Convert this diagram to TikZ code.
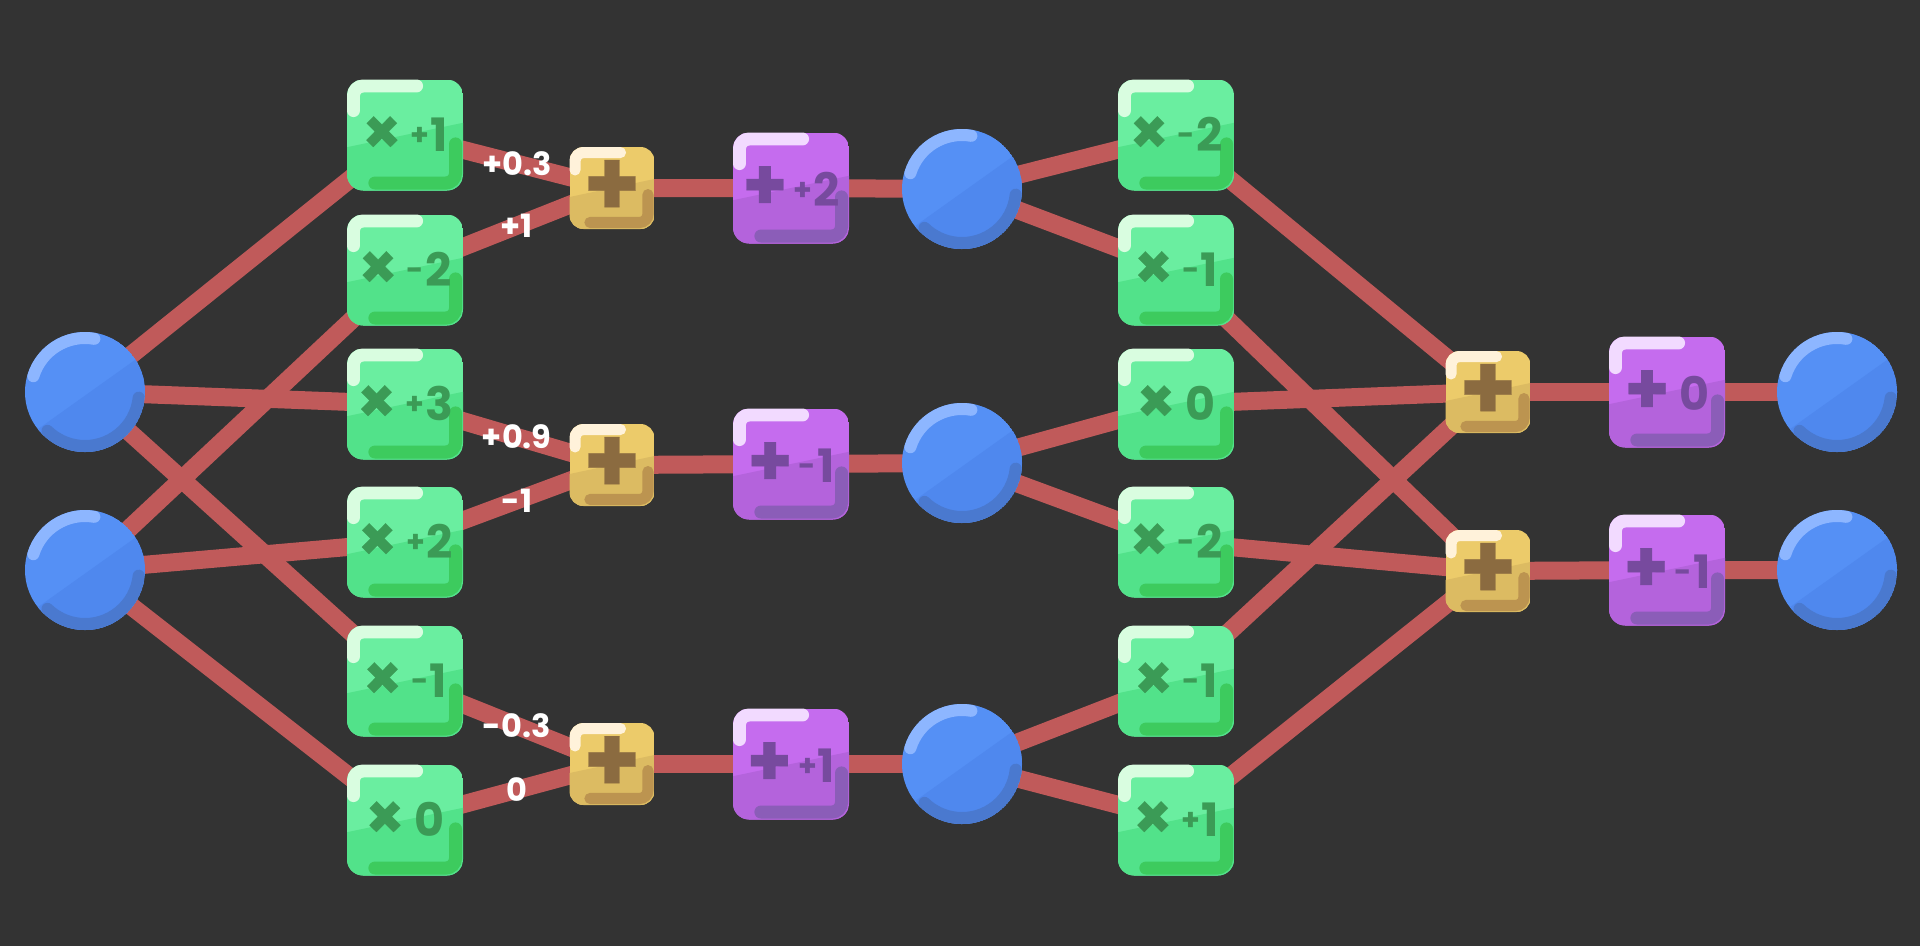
\documentclass[tikz,border=0pt]{standalone}
\usepackage{fontspec}
\setmainfont{Poppins}
\newfontfamily\popmed{Poppins}[FakeBold=0.4]
\usetikzlibrary{calc}
\definecolor{bgc}{HTML}{333333}
\definecolor{edgec}{HTML}{C05A5A}
\definecolor{gtop}{HTML}{6AEEA0}
\definecolor{gbot}{HTML}{52E28A}
\definecolor{ghi}{HTML}{D9FDE0}
\definecolor{gdk}{HTML}{3DCB5E}
\definecolor{gtx}{HTML}{3B9B56}
\definecolor{ptop}{HTML}{C56CEE}
\definecolor{pbot}{HTML}{B463DC}
\definecolor{phi}{HTML}{F2DAFF}
\definecolor{pdk}{HTML}{8B5DB8}
\definecolor{ptx}{HTML}{774A9E}
\definecolor{ytop}{HTML}{ECCB6A}
\definecolor{ybot}{HTML}{DCBB62}
\definecolor{yhi}{HTML}{FFF2DA}
\definecolor{ydk}{HTML}{BC9450}
\definecolor{ytx}{HTML}{8B6B40}
\definecolor{btop}{HTML}{5590F5}
\definecolor{bbot}{HTML}{4F88EE}
\definecolor{bhi}{HTML}{8DB6FF}
\definecolor{bdk}{HTML}{4A79CF}
\pgfdeclarelayer{bg}
\pgfsetlayers{bg,main}
\tikzset{
  edge/.style={draw=edgec, line width=18pt},
  lbl/.style={text=white, font=\fontsize{32}{32}\selectfont\bfseries, inner sep=0pt},
  boxtext/.style={font=\fontsize{46}{46}\selectfont\bfseries, inner sep=0pt}
}
\newcommand{\smsign}[1]{\raisebox{6pt}{\fontsize{30}{30}\selectfont #1}}
\newcommand{\opmul}{\raisebox{-2pt}{\fontsize{62}{62}\selectfont\popmed ×}}
\newcommand{\opadd}{\raisebox{-3pt}{\fontsize{72}{72}\selectfont\popmed +}}
\newcommand{\bigplus}{{\fontsize{92}{92}\selectfont\popmed +}}
\newcommand{\opbox}[7]{% name, x, y, w, h, colour prefix, content
  \pgfmathsetmacro{\bxa}{#2-#4/2}%
  \pgfmathsetmacro{\bxb}{#2+#4/2}%
  \pgfmathsetmacro{\bya}{#3-#5/2}%
  \pgfmathsetmacro{\byb}{#3+#5/2}%
  \pgfmathsetmacro{\blw}{0.06*#4+6}%
  \pgfmathsetmacro{\brr}{0.07*#4+8}%
  \pgfmathsetmacro{\bri}{\brr-\blw/2}%
  \begin{scope}
    \clip[rounded corners=\brr pt] (\bxa,\bya) rectangle (\bxb,\byb);
    \fill[#6top] (\bxa,\bya) rectangle (\bxb,\byb);
    \fill[#6bot] (\bxa,\bya+0.61*#5) -- (\bxb,\bya+0.39*#5) -- (\bxb,\byb) -- (\bxa,\byb) -- cycle;
    \draw[#6hi, line width=\blw pt, line cap=round, rounded corners=\bri pt]
      (\bxa+\blw/2,\bya+0.28*#5) -- (\bxa+\blw/2,\bya+\blw/2) -- (\bxa+0.6*#4,\bya+\blw/2);
    \draw[#6dk, line width=\blw pt, line cap=round, rounded corners=\bri pt]
      (\bxb-\blw/2-1,\bya+0.58*#5) -- (\bxb-\blw/2-1,\byb-\blw/2-1) -- (\bxa+0.24*#4,\byb-\blw/2-1);
  \end{scope}
  \node[boxtext, text=#6tx, minimum width=#4pt, minimum height=#5pt] (#1) at (#2,#3) {#7};
}
\newcommand{\neuron}[3]{% name, x, y
  \begin{scope}
    \clip (#2,#3) circle[radius=60];
    \fill[btop] (#2,#3) circle[radius=60];
    \fill[bbot] (#2-70,#3+53.5) -- (#2+70,#3-46.3) -- (#2+70,#3+70) -- (#2-70,#3+70) -- cycle;
    \draw[bhi, line width=12pt, line cap=round] ($(#2,#3)+(-163:54)$) arc[start angle=-163, end angle=-80, radius=54];
    \draw[bdk, line width=12pt, line cap=round] ($(#2,#3)+(6:54)$) arc[start angle=6, end angle=134, radius=54];
  \end{scope}
  \node[circle, minimum size=120pt, inner sep=0pt] (#1) at (#2,#3) {};
}
\begin{document}
\begin{tikzpicture}[x=1pt, y=-1pt]
\useasboundingbox (0,0) rectangle (1920,946);
% inputs
\neuron{in1}{85}{392}
\neuron{in2}{85}{570}
% first multiply column
\opbox{g1}{405}{135}{116}{111}{g}{\opmul\hspace{9pt}\smsign{+}\hspace{1pt}1}
\opbox{g2}{405}{270}{116}{111}{g}{\opmul\hspace{9pt}\smsign{-}\hspace{1pt}2}
\opbox{g3}{405}{404}{116}{111}{g}{\opmul\hspace{9pt}\smsign{+}\hspace{1pt}3}
\opbox{g4}{405}{542}{116}{111}{g}{\opmul\hspace{9pt}\smsign{+}\hspace{1pt}2}
\opbox{g5}{405}{681}{116}{111}{g}{\opmul\hspace{9pt}\smsign{-}\hspace{1pt}1}
\opbox{g6}{405}{820}{116}{111}{g}{\opmul\hspace{10pt}0}
% sums
\opbox{s1}{612}{188}{85}{82}{y}{\bigplus}
\opbox{s2}{612}{465}{85}{82}{y}{\bigplus}
\opbox{s3}{612}{764}{85}{82}{y}{\bigplus}
% biases
\opbox{b1}{791}{188}{116}{111}{p}{\opadd\hspace{6pt}\smsign{+}\hspace{1pt}2}
\opbox{b2}{791}{464}{116}{111}{p}{\opadd\hspace{6pt}\smsign{-}\hspace{1pt}1}
\opbox{b3}{791}{764}{116}{111}{p}{\opadd\hspace{6pt}\smsign{+}\hspace{1pt}1}
% hidden
\neuron{h1}{962}{189}
\neuron{h2}{962}{463}
\neuron{h3}{962}{764}
% second multiply column
\opbox{k1}{1176}{135}{116}{111}{g}{\opmul\hspace{9pt}\smsign{-}\hspace{1pt}2}
\opbox{k2}{1176}{270}{116}{111}{g}{\opmul\hspace{9pt}\smsign{-}\hspace{1pt}1}
\opbox{k3}{1176}{404}{116}{111}{g}{\opmul\hspace{10pt}0}
\opbox{k4}{1176}{542}{116}{111}{g}{\opmul\hspace{9pt}\smsign{-}\hspace{1pt}2}
\opbox{k5}{1176}{681}{116}{111}{g}{\opmul\hspace{9pt}\smsign{-}\hspace{1pt}1}
\opbox{k6}{1176}{820}{116}{111}{g}{\opmul\hspace{9pt}\smsign{+}\hspace{1pt}1}
% output sums
\opbox{t1}{1488}{392}{85}{82}{y}{\bigplus}
\opbox{t2}{1488}{571}{85}{82}{y}{\bigplus}
% output biases
\opbox{c1}{1667}{392}{116}{111}{p}{\opadd\hspace{10pt}0}
\opbox{c2}{1667}{570}{116}{111}{p}{\opadd\hspace{6pt}\smsign{-}\hspace{1pt}1}
% outputs
\neuron{o1}{1837}{392}
\neuron{o2}{1837}{570}
\begin{pgfonlayer}{bg}
  \fill[bgc] (0,0) rectangle (1920,946);
  \draw[edge] (in1.center) -- (g1.center);
  \draw[edge] (in1.center) -- (g3.center);
  \draw[edge] (in1.center) -- (g5.center);
  \draw[edge] (in2.center) -- (g2.center);
  \draw[edge] (in2.center) -- (g4.center);
  \draw[edge] (in2.center) -- (g6.center);
  \draw[edge] (g1.center) -- node[lbl, pos=0.54] (l1) {+0.3} (s1.center);
  \draw[edge] (g2.center) -- node[lbl, pos=0.54] (l2) {+1} (s1.center);
  \draw[edge] (g3.center) -- node[lbl, pos=0.54] (l3) {+0.9} (s2.center);
  \draw[edge] (g4.center) -- node[lbl, pos=0.54] (l4) {-1} (s2.center);
  \draw[edge] (g5.center) -- node[lbl, pos=0.54] (l5) {-0.3} (s3.center);
  \draw[edge] (g6.center) -- node[lbl, pos=0.54] (l6) {0} (s3.center);
  \draw[edge] (s1.center) -- (b1.center) -- (h1.center);
  \draw[edge] (s2.center) -- (b2.center) -- (h2.center);
  \draw[edge] (s3.center) -- (b3.center) -- (h3.center);
  \draw[edge] (h1.center) -- (k1.center);
  \draw[edge] (h1.center) -- (k2.center);
  \draw[edge] (h2.center) -- (k3.center);
  \draw[edge] (h2.center) -- (k4.center);
  \draw[edge] (h3.center) -- (k5.center);
  \draw[edge] (h3.center) -- (k6.center);
  \draw[edge] (k1.center) -- (t1.center);
  \draw[edge] (k2.center) -- (t2.center);
  \draw[edge] (k3.center) -- (t1.center);
  \draw[edge] (k4.center) -- (t2.center);
  \draw[edge] (k5.center) -- (t1.center);
  \draw[edge] (k6.center) -- (t2.center);
  \draw[edge] (t1.center) -- (c1.center) -- (o1.center);
  \draw[edge] (t2.center) -- (c2.center) -- (o2.center);
\end{pgfonlayer}
\end{tikzpicture}
\end{document}
